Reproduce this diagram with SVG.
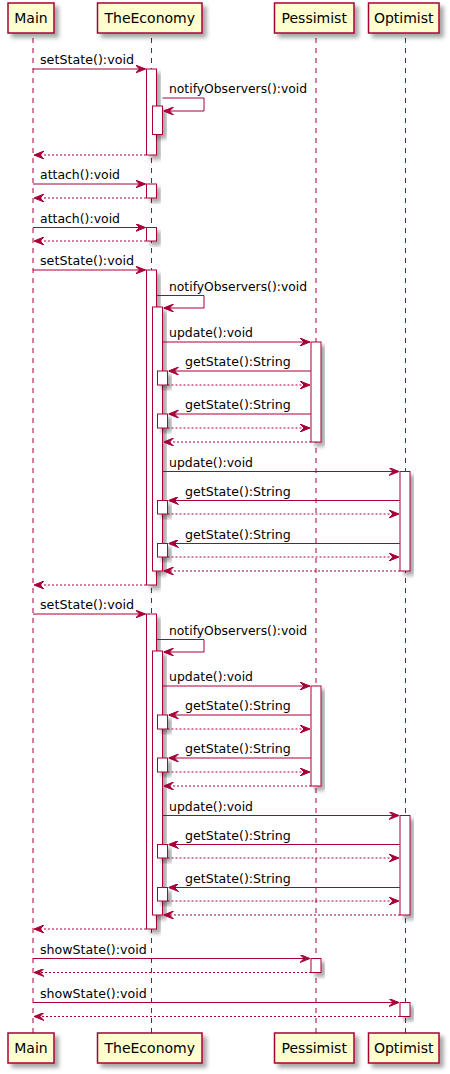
<svg xmlns="http://www.w3.org/2000/svg" width="450" height="1074" viewBox="0 0 450 1074">
<defs>
<filter id="sh" x="-20%" y="-20%" width="160%" height="160%">
<feGaussianBlur in="SourceAlpha" stdDeviation="2"/>
<feOffset dx="4" dy="4" result="b"/>
<feComponentTransfer><feFuncA type="linear" slope="0.35"/></feComponentTransfer>
<feMerge><feMergeNode/><feMergeNode in="SourceGraphic"/></feMerge>
</filter>
<marker id="af" viewBox="0 0 10 8" refX="10" refY="4" markerWidth="10" markerHeight="8" markerUnits="userSpaceOnUse" orient="auto">
<polygon points="0,0 10,4 0,8 4,4" fill="#A80036" stroke="#A80036" stroke-width="1"/>
</marker>
</defs>
<style>
.p{fill:#FEFECE;stroke:#A80036;stroke-width:1.5;filter:url(#sh)}
.pt{font-family:"DejaVu Sans",sans-serif;font-size:14px;fill:#000;text-anchor:middle}
.ll{stroke:#A80036;stroke-width:1;stroke-dasharray:5,5;fill:none}
.a{fill:#FFFFFF;stroke:#A80036;stroke-width:1;filter:url(#sh)}
.m{stroke:#A80036;stroke-width:1;fill:none;marker-end:url(#af)}
.r{stroke:#A80036;stroke-width:1;fill:none;stroke-dasharray:2,2;marker-end:url(#af)}
.t{font-family:"DejaVu Sans",sans-serif;font-size:13px;fill:#000}
</style>
<g id="lifelines">
<line class="ll" x1="33" y1="38" x2="33" y2="1033"/>
<line class="ll" x1="151.5" y1="38" x2="151.5" y2="1033"/>
<line class="ll" x1="316" y1="38" x2="316" y2="1033"/>
<line class="ll" x1="405.5" y1="38" x2="405.5" y2="1033"/>
</g>
<g id="Main">
<rect class="p" x="8" y="3" width="46" height="30"/>
<text class="pt" x="31" y="23">Main</text>
<rect class="p" x="8" y="1033" width="46" height="30"/>
<text class="pt" x="31" y="1053">Main</text>
</g>
<g id="TheEconomy">
<rect class="p" x="97.5" y="3" width="104.5" height="30"/>
<text class="pt" x="149.75" y="23">TheEconomy</text>
<rect class="p" x="97.5" y="1033" width="104.5" height="30"/>
<text class="pt" x="149.75" y="1053">TheEconomy</text>
</g>
<g id="Pessimist">
<rect class="p" x="274.5" y="3" width="79.5" height="30"/>
<text class="pt" x="314.25" y="23">Pessimist</text>
<rect class="p" x="274.5" y="1033" width="79.5" height="30"/>
<text class="pt" x="314.25" y="1053">Pessimist</text>
</g>
<g id="Optimist">
<rect class="p" x="368.5" y="3" width="70.5" height="30"/>
<text class="pt" x="403.75" y="23">Optimist</text>
<rect class="p" x="368.5" y="1033" width="70.5" height="30"/>
<text class="pt" x="403.75" y="1053">Optimist</text>
</g>
<g id="activations">
<rect class="a" x="146.5" y="69" width="10" height="86"/>
<rect class="a" x="152.5" y="106" width="10" height="28.5"/>
<rect class="a" x="146.5" y="184" width="10" height="14"/>
<rect class="a" x="146.5" y="227.5" width="10" height="13.5"/>
<rect class="a" x="146.5" y="270" width="10" height="315"/>
<rect class="a" x="152.5" y="307" width="10" height="264"/>
<rect class="a" x="311" y="342" width="10" height="100"/>
<rect class="a" x="157.5" y="371" width="10" height="14"/>
<rect class="a" x="157.5" y="414" width="10" height="14"/>
<rect class="a" x="400" y="471.5" width="10" height="99.5"/>
<rect class="a" x="157.5" y="500.5" width="10" height="13.5"/>
<rect class="a" x="157.5" y="543.5" width="10" height="13.5"/>
<rect class="a" x="146.5" y="614" width="10" height="315"/>
<rect class="a" x="152.5" y="651" width="10" height="264"/>
<rect class="a" x="311" y="686" width="10" height="100"/>
<rect class="a" x="157.5" y="715" width="10" height="14"/>
<rect class="a" x="157.5" y="758" width="10" height="14"/>
<rect class="a" x="400" y="815.5" width="10" height="99.5"/>
<rect class="a" x="157.5" y="844.5" width="10" height="13.5"/>
<rect class="a" x="157.5" y="887.5" width="10" height="13.5"/>
<rect class="a" x="311" y="958.5" width="10" height="14"/>
<rect class="a" x="400" y="1002.5" width="10" height="14"/>
</g>
<g id="connectors">
<line class="m" x1="33" y1="69" x2="145.5" y2="69"/>
<text class="t" x="40" y="64" textLength="94" lengthAdjust="spacingAndGlyphs">setState():void</text>
<polyline class="m" points="162.5,98 204,98 204,111 163.5,111"/>
<text class="t" x="169" y="93" textLength="138" lengthAdjust="spacingAndGlyphs">notifyObservers():void</text>
<line class="r" x1="146" y1="155" x2="34" y2="155"/>

<line class="m" x1="33" y1="184" x2="145.5" y2="184"/>
<text class="t" x="40" y="179" textLength="80" lengthAdjust="spacingAndGlyphs">attach():void</text>
<line class="r" x1="146" y1="198" x2="34" y2="198"/>
<line class="m" x1="33" y1="227.5" x2="145.5" y2="227.5"/>
<text class="t" x="40" y="222.5" textLength="80" lengthAdjust="spacingAndGlyphs">attach():void</text>
<line class="r" x1="146" y1="241" x2="34" y2="241"/>

<line class="m" x1="33" y1="270" x2="145.5" y2="270"/>
<text class="t" x="40" y="265" textLength="94" lengthAdjust="spacingAndGlyphs">setState():void</text>
<polyline class="m" points="156.5,295.5 204,295.5 204,308 163.5,308"/>
<text class="t" x="169" y="290.5" textLength="138" lengthAdjust="spacingAndGlyphs">notifyObservers():void</text>
<line class="m" x1="162.5" y1="342" x2="310" y2="342"/>
<text class="t" x="169" y="337" textLength="84" lengthAdjust="spacingAndGlyphs">update():void</text>
<line class="m" x1="311" y1="371" x2="168.5" y2="371"/>
<text class="t" x="185" y="366" textLength="105.7" lengthAdjust="spacingAndGlyphs">getState():String</text>
<line class="r" x1="167.5" y1="385" x2="310" y2="385"/>
<line class="m" x1="311" y1="414" x2="168.5" y2="414"/>
<text class="t" x="185" y="409" textLength="105.7" lengthAdjust="spacingAndGlyphs">getState():String</text>
<line class="r" x1="167.5" y1="428" x2="310" y2="428"/>
<line class="r" x1="311" y1="442" x2="163.5" y2="442"/>
<line class="m" x1="162.5" y1="471.5" x2="399" y2="471.5"/>
<text class="t" x="169" y="466.5" textLength="84" lengthAdjust="spacingAndGlyphs">update():void</text>
<line class="m" x1="400" y1="500.5" x2="168.5" y2="500.5"/>
<text class="t" x="185" y="495.5" textLength="105.7" lengthAdjust="spacingAndGlyphs">getState():String</text>
<line class="r" x1="167.5" y1="514" x2="399" y2="514"/>
<line class="m" x1="400" y1="543.5" x2="168.5" y2="543.5"/>
<text class="t" x="185" y="538.5" textLength="105.7" lengthAdjust="spacingAndGlyphs">getState():String</text>
<line class="r" x1="167.5" y1="557" x2="399" y2="557"/>
<line class="r" x1="400" y1="571" x2="163.5" y2="571"/>
<line class="r" x1="146" y1="585" x2="34" y2="585"/>

<line class="m" x1="33" y1="614" x2="145.5" y2="614"/>
<text class="t" x="40" y="609" textLength="94" lengthAdjust="spacingAndGlyphs">setState():void</text>
<polyline class="m" points="156.5,639.5 204,639.5 204,652 163.5,652"/>
<text class="t" x="169" y="634.5" textLength="138" lengthAdjust="spacingAndGlyphs">notifyObservers():void</text>
<line class="m" x1="162.5" y1="686" x2="310" y2="686"/>
<text class="t" x="169" y="681" textLength="84" lengthAdjust="spacingAndGlyphs">update():void</text>
<line class="m" x1="311" y1="715" x2="168.5" y2="715"/>
<text class="t" x="185" y="710" textLength="105.7" lengthAdjust="spacingAndGlyphs">getState():String</text>
<line class="r" x1="167.5" y1="729" x2="310" y2="729"/>
<line class="m" x1="311" y1="758" x2="168.5" y2="758"/>
<text class="t" x="185" y="753" textLength="105.7" lengthAdjust="spacingAndGlyphs">getState():String</text>
<line class="r" x1="167.5" y1="772" x2="310" y2="772"/>
<line class="r" x1="311" y1="786" x2="163.5" y2="786"/>
<line class="m" x1="162.5" y1="815.5" x2="399" y2="815.5"/>
<text class="t" x="169" y="810.5" textLength="84" lengthAdjust="spacingAndGlyphs">update():void</text>
<line class="m" x1="400" y1="844.5" x2="168.5" y2="844.5"/>
<text class="t" x="185" y="839.5" textLength="105.7" lengthAdjust="spacingAndGlyphs">getState():String</text>
<line class="r" x1="167.5" y1="858" x2="399" y2="858"/>
<line class="m" x1="400" y1="887.5" x2="168.5" y2="887.5"/>
<text class="t" x="185" y="882.5" textLength="105.7" lengthAdjust="spacingAndGlyphs">getState():String</text>
<line class="r" x1="167.5" y1="901" x2="399" y2="901"/>
<line class="r" x1="400" y1="915" x2="163.5" y2="915"/>
<line class="r" x1="146" y1="929" x2="34" y2="929"/>

<line class="m" x1="33" y1="958.5" x2="310" y2="958.5"/>
<text class="t" x="40" y="953.5" textLength="106.7" lengthAdjust="spacingAndGlyphs">showState():void</text>
<line class="r" x1="311" y1="972.5" x2="34" y2="972.5"/>
<line class="m" x1="33" y1="1002.5" x2="399" y2="1002.5"/>
<text class="t" x="40" y="997.5" textLength="106.7" lengthAdjust="spacingAndGlyphs">showState():void</text>
<line class="r" x1="400" y1="1016.5" x2="34" y2="1016.5"/>
</g>
</svg>
